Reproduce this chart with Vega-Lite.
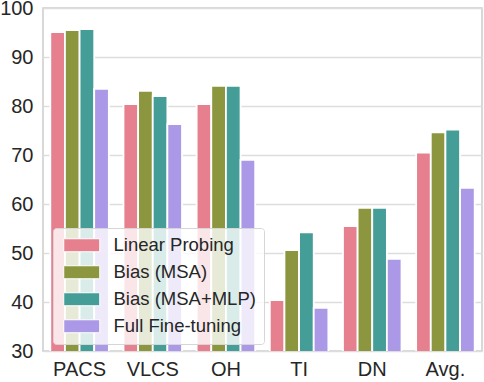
{
  "$schema": "https://vega.github.io/schema/vega-lite/v6.json",
  "width": 439,
  "height": 343,
  "autosize": "none",
  "padding": {"left": 43, "top": 8, "right": 2, "bottom": 31},
  "background": "white",
  "config": {
    "view": {"stroke": "#cccccc", "strokeWidth": 1.5},
    "font": "Liberation Sans"
  },
  "data": {
    "values": [
      {"dataset": "PACS", "method": "Linear Probing", "acc": 95.1},
      {"dataset": "PACS", "method": "Bias (MSA)", "acc": 95.5},
      {"dataset": "PACS", "method": "Bias (MSA+MLP)", "acc": 95.7},
      {"dataset": "PACS", "method": "Full Fine-tuning", "acc": 83.5},
      {"dataset": "VLCS", "method": "Linear Probing", "acc": 80.4},
      {"dataset": "VLCS", "method": "Bias (MSA)", "acc": 83.1},
      {"dataset": "VLCS", "method": "Bias (MSA+MLP)", "acc": 82.0},
      {"dataset": "VLCS", "method": "Full Fine-tuning", "acc": 76.3},
      {"dataset": "OH", "method": "Linear Probing", "acc": 80.4},
      {"dataset": "OH", "method": "Bias (MSA)", "acc": 84.1},
      {"dataset": "OH", "method": "Bias (MSA+MLP)", "acc": 84.1},
      {"dataset": "OH", "method": "Full Fine-tuning", "acc": 69.0},
      {"dataset": "TI", "method": "Linear Probing", "acc": 40.4},
      {"dataset": "TI", "method": "Bias (MSA)", "acc": 50.6},
      {"dataset": "TI", "method": "Bias (MSA+MLP)", "acc": 54.2},
      {"dataset": "TI", "method": "Full Fine-tuning", "acc": 38.8},
      {"dataset": "DN", "method": "Linear Probing", "acc": 55.5},
      {"dataset": "DN", "method": "Bias (MSA)", "acc": 59.2},
      {"dataset": "DN", "method": "Bias (MSA+MLP)", "acc": 59.2},
      {"dataset": "DN", "method": "Full Fine-tuning", "acc": 48.8},
      {"dataset": "Avg.", "method": "Linear Probing", "acc": 70.5},
      {"dataset": "Avg.", "method": "Bias (MSA)", "acc": 74.6},
      {"dataset": "Avg.", "method": "Bias (MSA+MLP)", "acc": 75.2},
      {"dataset": "Avg.", "method": "Full Fine-tuning", "acc": 63.3}
    ]
  },
  "mark": {"type": "bar", "clip": true, "stroke": "white", "strokeWidth": 1.8},
  "encoding": {
    "x": {
      "field": "dataset",
      "type": "nominal",
      "sort": ["PACS", "VLCS", "OH", "TI", "DN", "Avg."],
      "scale": {"paddingInner": 0.2, "paddingOuter": 0.1},
      "axis": {
        "title": null,
        "labelAngle": 0,
        "labelFontSize": 20,
        "labelColor": "#262626",
        "labelPadding": 8,
        "ticks": false,
        "domain": false,
        "grid": false
      }
    },
    "xOffset": {
      "field": "method",
      "type": "nominal",
      "sort": ["Linear Probing", "Bias (MSA)", "Bias (MSA+MLP)", "Full Fine-tuning"],
      "scale": {"paddingInner": 0, "paddingOuter": 0}
    },
    "y": {
      "field": "acc",
      "type": "quantitative",
      "scale": {"domain": [30, 100], "nice": false, "zero": false},
      "axis": {
        "title": null,
        "values": [30, 40, 50, 60, 70, 80, 90, 100],
        "labelFontSize": 20,
        "labelColor": "#262626",
        "labelPadding": 10,
        "ticks": false,
        "domain": false,
        "grid": true,
        "gridColor": "#dddddd",
        "gridWidth": 1.3
      }
    },
    "color": {
      "field": "method",
      "type": "nominal",
      "sort": ["Linear Probing", "Bias (MSA)", "Bias (MSA+MLP)", "Full Fine-tuning"],
      "scale": {
        "domain": ["Linear Probing", "Bias (MSA)", "Bias (MSA+MLP)", "Full Fine-tuning"],
        "range": ["#e6808f", "#8c963f", "#449e97", "#ab98e6"]
      },
      "legend": {
        "title": null,
        "orient": "none",
        "legendX": 10,
        "legendY": 220,
        "padding": 8,
        "fillColor": "rgba(255,255,255,0.8)",
        "strokeColor": "#d6d6d6",
        "cornerRadius": 3,
        "symbolType": "M-1,-1 h5.54 v2 h-5.54 Z",
        "symbolSize": 169,
        "symbolStrokeColor": "white",
        "symbolStrokeWidth": 1,
        "symbolOpacity": 1,
        "labelOffset": 34,
        "labelFontSize": 18.5,
        "labelColor": "#262626",
        "labelLimit": 300,
        "rowPadding": 8
      }
    }
  }
}
